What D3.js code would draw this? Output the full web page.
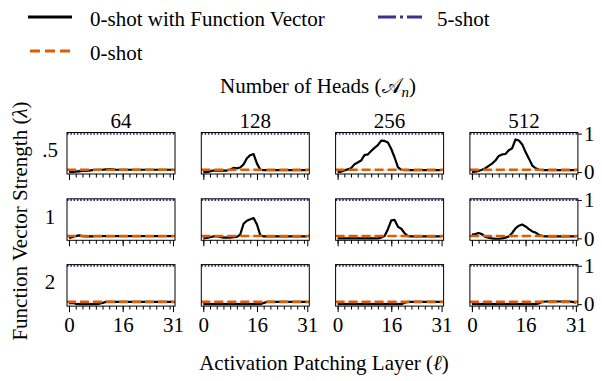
<!DOCTYPE html>
<html>
<head>
<meta charset="utf-8">
<script src="https://cdn.jsdelivr.net/npm/d3@7"></script>
<style>
svg text { font-family: "Liberation Serif" !important; }
</style>
</head>
<body style="margin:0">
<svg id="chart" width="602" height="381" font-family="Liberation Serif"></svg>
<script>
// data
const heads = [64, 128, 256, 512];
const strengths = ['.5', '1', '2'];
const layers = d3.range(32);
const majorTicks = [0, 16, 31];
const minorTicks = d3.range(0, 32, 2);
const yTicks = [0, 1];

const zeroShotMean = 0.06;
const zeroShotStd = 0.02;
const fiveShot = 1.0;

// lambda = .5
const fvHalf64  = [0.01,0.00,0.01,0.02,0.03,0.03,0.04,0.05,0.06,0.06,0.06,0.07,0.08,0.07,0.06,0.06,0.06,0.06,0.06,0.06,0.06,0.06,0.06,0.06,0.06,0.06,0.06,0.06,0.06,0.06,0.06,0.06];
const fvHalf128 = [0.00,0.00,0.02,0.04,0.04,0.04,0.04,0.04,0.06,0.11,0.10,0.12,0.20,0.36,0.44,0.47,0.22,0.06,0.05,0.05,0.05,0.05,0.05,0.05,0.05,0.05,0.05,0.05,0.05,0.05,0.05,0.05];
const fvHalf256 = [0.00,0.01,0.04,0.07,0.10,0.20,0.25,0.30,0.44,0.46,0.55,0.63,0.70,0.82,0.81,0.77,0.60,0.38,0.12,0.06,0.05,0.05,0.05,0.05,0.05,0.05,0.05,0.05,0.05,0.05,0.05,0.05];
const fvHalf512 = [0.00,0.01,0.03,0.06,0.10,0.16,0.22,0.30,0.42,0.46,0.47,0.57,0.62,0.85,0.82,0.72,0.52,0.35,0.17,0.10,0.06,0.05,0.05,0.05,0.05,0.05,0.05,0.05,0.05,0.05,0.05,0.05];
// lambda = 1
const fvOne64  = [0.01,0.03,0.06,0.08,0.06,0.05,0.05,0.05,0.06,0.06,0.06,0.06,0.06,0.06,0.06,0.06,0.06,0.06,0.06,0.06,0.06,0.06,0.06,0.06,0.06,0.06,0.06,0.06,0.06,0.06,0.06,0.06];
const fvOne128 = [0.00,0.01,0.03,0.05,0.06,0.04,0.02,0.02,0.02,0.03,0.04,0.10,0.38,0.46,0.50,0.53,0.36,0.08,0.05,0.05,0.05,0.05,0.05,0.05,0.05,0.05,0.05,0.05,0.05,0.05,0.05,0.05];
const fvOne256 = [0.00,0.00,0.00,0.00,0.00,0.00,0.00,0.00,0.00,0.00,0.00,0.00,0.00,0.02,0.06,0.24,0.47,0.48,0.30,0.25,0.13,0.06,0.05,0.05,0.05,0.05,0.05,0.05,0.05,0.05,0.05,0.05];
const fvOne512 = [0.10,0.11,0.14,0.11,0.04,0.02,0.00,-0.01,-0.01,0.00,0.02,0.05,0.14,0.26,0.33,0.36,0.31,0.24,0.18,0.15,0.09,0.06,0.05,0.05,0.05,0.05,0.05,0.05,0.05,0.05,0.05,0.05];
// lambda = 2
const fvTwo64  = [0.02,0.03,0.01,0.00,0.00,0.00,0.00,0.00,0.00,0.01,0.03,0.06,0.06,0.06,0.06,0.06,0.06,0.06,0.06,0.06,0.06,0.06,0.06,0.06,0.06,0.06,0.06,0.06,0.06,0.06,0.06,0.06];
const fvTwo128 = [0.00,0.00,0.00,0.00,0.00,0.00,0.00,0.00,0.00,0.00,0.00,0.00,0.00,0.00,0.00,0.00,0.00,0.00,0.03,0.06,0.06,0.06,0.06,0.06,0.06,0.06,0.06,0.06,0.06,0.06,0.06,0.06];
const fvTwo256 = [0.00,0.00,0.00,0.00,0.00,0.00,0.00,0.00,0.00,0.00,0.00,0.00,0.00,0.00,0.00,0.00,0.00,0.00,0.00,0.00,0.04,0.06,0.06,0.06,0.06,0.06,0.06,0.06,0.06,0.06,0.06,0.06];
const fvTwo512 = [0.00,0.00,0.00,0.00,0.00,0.00,0.00,0.00,0.00,0.00,0.00,0.00,0.00,0.00,0.00,0.00,0.00,0.00,0.00,0.00,0.02,0.06,0.07,0.07,0.07,0.07,0.07,0.07,0.07,0.07,0.06,0.04];

const fvGrid = [
    [fvHalf64, fvHalf128, fvHalf256, fvHalf512],
    [fvOne64, fvOne128, fvOne256, fvOne512],
    [fvTwo64, fvTwo128, fvTwo256, fvTwo512]
];

// colours, font
const black = '#000';
const orange = '#d95f02';
const blue = '#3b3194';
const fontName = '"Liberation Serif"';

// layout
const colLeft = [67, 201.3, 335.6, 469.9];
const rowTop = [132.5, 198.8, 264.6];
const panelW = 108;
const panelH = 41.5;

const svg = d3.select('#chart');

const x = d3.scaleLinear().domain([-0.6, 31.6]).range([0, panelW]);
const y = d3.scaleLinear().domain([-0.05, 1.03]).range([panelH, 0]);

const line = d3.line()
    .x((d, i) => x(layers[i]))
    .y(d => y(d));

function styleText(sel, size) {
    return sel
        .attr('font-family', 'Liberation Serif')
        .style('font-family', fontName, 'important')
        .style('font-size', size + 'px');
}

fvGrid.forEach((row, r) => {
    row.forEach((values, c) => {
        const g = svg.append('g')
            .attr('transform', `translate(${colLeft[c]},${rowTop[r]})`);

        // 0-shot band
        g.append('rect')
            .attr('x', 0)
            .attr('width', panelW)
            .attr('y', y(zeroShotMean + zeroShotStd))
            .attr('height', y(zeroShotMean - zeroShotStd) - y(zeroShotMean + zeroShotStd))
            .attr('fill', orange)
            .attr('opacity', 0.25);

        // function vector curve
        g.append('path')
            .datum(values)
            .attr('d', line)
            .attr('fill', 'none')
            .attr('stroke', black)
            .attr('stroke-width', 2.2)
            .attr('stroke-linejoin', 'round');

        // 0-shot baseline
        g.append('line')
            .attr('x1', 0).attr('x2', panelW)
            .attr('y1', y(zeroShotMean)).attr('y2', y(zeroShotMean))
            .attr('stroke', orange)
            .attr('stroke-width', 2.6)
            .attr('stroke-dasharray', '9,4');

        // 5-shot baseline
        g.append('line')
            .attr('x1', 0).attr('x2', panelW)
            .attr('y1', y(fiveShot)).attr('y2', y(fiveShot))
            .attr('stroke', blue)
            .attr('stroke-width', 2)
            .attr('stroke-dasharray', '1.6,1.7');

        // frame
        g.append('rect')
            .attr('width', panelW)
            .attr('height', panelH)
            .attr('fill', 'none')
            .attr('stroke', black)
            .attr('stroke-width', 1);

        // x ticks
        const minorAxis = g.append('g')
            .attr('transform', `translate(0,${panelH})`)
            .call(d3.axisBottom(x).tickValues(minorTicks).tickSize(3.5).tickFormat(''));
        minorAxis.select('.domain').remove();

        const majorAxis = g.append('g')
            .attr('transform', `translate(0,${panelH})`)
            .call(d3.axisBottom(x).tickValues(majorTicks).tickSize(6).tickPadding(5)
                .tickFormat(r === fvGrid.length - 1 ? d3.format('d') : ''));
        majorAxis.select('.domain').remove();
        majorAxis.attr('font-family', 'Liberation Serif');
        styleText(majorAxis.selectAll('text'), 21);

        // right y axis
        if (c === row.length - 1) {
            const yAxis = g.append('g')
                .attr('transform', `translate(${panelW},0)`)
                .call(d3.axisRight(y).tickValues(yTicks).tickSize(4).tickPadding(2).tickFormat(d3.format('d')));
            yAxis.select('.domain').remove();
            yAxis.attr('font-family', 'Liberation Serif');
            styleText(yAxis.selectAll('text'), 21);
        }

        // column title
        if (r === 0) {
            styleText(g.append('text'), 21)
                .attr('x', panelW / 2)
                .attr('y', -5)
                .attr('text-anchor', 'middle')
                .text(heads[c]);
        }

        // row title
        if (c === 0) {
            styleText(g.append('text'), 21)
                .attr('x', 50 - colLeft[0])
                .attr('y', panelH / 2 + 4)
                .attr('text-anchor', 'middle')
                .text(strengths[r]);
        }
    });
});

// axis titles
styleText(svg.append('text'), 21)
    .attr('x', 318)
    .attr('y', 93)
    .attr('text-anchor', 'middle')
    .html('Number of Heads (\u{1D49C}<tspan font-style="italic" font-size="15px" dy="4">n</tspan><tspan dy="-4">)</tspan>');

styleText(svg.append('text'), 21)
    .attr('x', 324)
    .attr('y', 370)
    .attr('text-anchor', 'middle')
    .html('Activation Patching Layer (<tspan font-style="italic">\u2113</tspan>)');

styleText(svg.append('text'), 21)
    .attr('transform', 'translate(27,221) rotate(-90)')
    .attr('text-anchor', 'middle')
    .html('Function Vector Strength (<tspan font-style="italic">\u03BB</tspan>)');

// legend
const legendItems = [
    { label: '0-shot with Function Vector', color: black, dash: null, x: 28, y: 17, tx: 90 },
    { label: '5-shot', color: blue, dash: '18,4,3,4', x: 378, y: 17, tx: 437 },
    { label: '0-shot', color: orange, dash: '10,5', x: 30, y: 51, tx: 90 }
];

legendItems.forEach(item => {
    svg.append('line')
        .attr('x1', item.x).attr('x2', item.x + 44)
        .attr('y1', item.y).attr('y2', item.y)
        .attr('stroke', item.color)
        .attr('stroke-width', 3)
        .attr('stroke-dasharray', item.dash);
    styleText(svg.append('text'), 21)
        .attr('x', item.tx)
        .attr('y', item.y + 9)
        .text(item.label);
});
</script>
</body>
</html>
